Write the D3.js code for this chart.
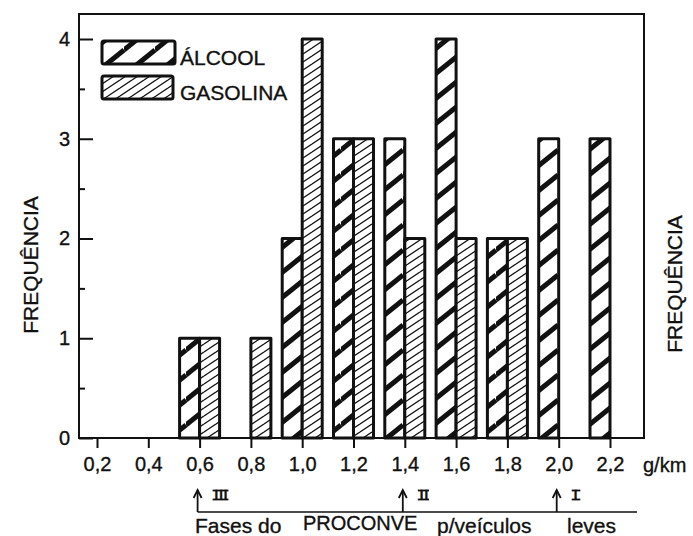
<!DOCTYPE html>
<html>
<head>
<meta charset="utf-8">
<script src="https://cdn.jsdelivr.net/npm/d3@7"></script>
<style>
  html, body { margin: 0; padding: 0; background: #fff; }
  svg { display: block; }
  text { font-family: "Liberation Sans", Arial, sans-serif; fill: #111; stroke: #111; stroke-width: 0.35px; }
</style>
</head>
<body>
<svg id="chart" width="693" height="536"></svg>
<script>
// ---- data ----
const xValues = [0.2, 0.4, 0.6, 0.8, 1.0, 1.2, 1.4, 1.6, 1.8, 2.0, 2.2];
const xTickLabels = ["0,2", "0,4", "0,6", "0,8", "1,0", "1,2", "1,4", "1,6", "1,8", "2,0", "2,2"];
const alcool   = [0, 0, 1, 0, 2, 3, 3, 4, 2, 3, 3];
const gasolina = [0, 0, 1, 1, 4, 3, 2, 2, 2, 0, 0];
const seriesNames = ["ÁLCOOL", "GASOLINA"];
const yMajorTicks = [0, 1, 2, 3, 4];
const yMinorTicks = [0.5, 1.5, 2.5, 3.5];
const phaseValues = [0.6, 1.4, 2.0];
const phaseLabels = ["III", "II", "I"];
const unitLabel = "g/km";
const yTitle = "FREQUÊNCIA";
const footerParts = ["Fases do", "PROCONVE", "p/veículos", "leves"];

// ---- layout ----
const svg = d3.select("#chart");
const ink = "#111";
const frame = { left: 79, top: 14, right: 644, bottom: 438 };
const x = d3.scaleLinear().domain([0.2, 2.2]).range([97, 610]);
const y = d3.scaleLinear().domain([0, 4]).range([438, 39]);
const barW = 20;

// ---- patterns ----
const defs = svg.append("defs");
function hatch(id, w, h, sw) {
  const p = defs.append("pattern").attr("id", id)
    .attr("patternUnits", "userSpaceOnUse").attr("width", w).attr("height", h);
  p.append("rect").attr("width", w).attr("height", h).attr("fill", "#fff");
  const segs = [[0, h, w, 0], [-w, h, 0, 0], [w, 2 * h, 2 * w, h], [0, 2*h, w, h], [0, 0, w, -h]];
  segs.forEach(s => p.append("line")
    .attr("x1", s[0]).attr("y1", s[1]).attr("x2", s[2]).attr("y2", s[3])
    .attr("stroke", ink).attr("stroke-width", sw));
}
hatch("hatchA", 31, 25, 5);
hatch("hatchG", 12, 8, 1.3);

// ---- frame ----
svg.append("rect")
  .attr("x", frame.left).attr("y", frame.top)
  .attr("width", frame.right - frame.left).attr("height", frame.bottom - frame.top)
  .attr("fill", "none").attr("stroke", ink).attr("stroke-width", 2);

// ---- bars ----
const rows = xValues.map((v, i) => ({ v, a: alcool[i], g: gasolina[i] }));
const barsG = svg.append("g");
barsG.selectAll("rect.a").data(rows.filter(d => d.a > 0)).join("rect")
  .attr("class", "a")
  .attr("x", d => x(d.v) - barW).attr("y", d => y(d.a))
  .attr("width", barW).attr("height", d => y(0) - y(d.a))
  .attr("fill", "url(#hatchA)").attr("stroke", ink).attr("stroke-width", 3)
  .attr("stroke-linejoin", "round");
barsG.selectAll("rect.g").data(rows.filter(d => d.g > 0)).join("rect")
  .attr("class", "g")
  .attr("x", d => x(d.v)).attr("y", d => y(d.g))
  .attr("width", barW).attr("height", d => y(0) - y(d.g))
  .attr("fill", "url(#hatchG)").attr("stroke", ink).attr("stroke-width", 3)
  .attr("stroke-linejoin", "round");

// ---- y axis ----
const yAxis = svg.append("g").attr("transform", `translate(${frame.left},0)`)
  .call(d3.axisLeft(y).tickValues(yMajorTicks).tickSize(-14).tickPadding(9).tickFormat(d3.format("d")));
yAxis.select(".domain").remove();
yAxis.selectAll("line").attr("stroke", ink).attr("stroke-width", 2);
yAxis.selectAll("text").attr("font-size", 20).attr("fill", ink);

const yMinor = svg.append("g").attr("transform", `translate(${frame.left},0)`)
  .call(d3.axisLeft(y).tickValues(yMinorTicks).tickSize(-6).tickFormat(""));
yMinor.select(".domain").remove();
yMinor.selectAll("line").attr("stroke", ink).attr("stroke-width", 2);

// ---- x axis ----
const xAxis = svg.append("g").attr("transform", `translate(0,${frame.bottom})`)
  .call(d3.axisBottom(x).tickValues(xValues).tickSize(10).tickPadding(9)
    .tickFormat((d, i) => xTickLabels[i]));
xAxis.select(".domain").remove();
xAxis.selectAll("line").attr("stroke", ink).attr("stroke-width", 2);
xAxis.selectAll("text").attr("font-size", 20).attr("fill", ink);

svg.append("text").attr("x", 643).attr("y", 472)
  .attr("font-size", 20).text(unitLabel);

// ---- y titles ----
svg.append("text").attr("transform", "translate(38,265) rotate(-90)")
  .attr("text-anchor", "middle").attr("font-size", 21).text(yTitle);
svg.append("text").attr("transform", "translate(682,284) rotate(-90)")
  .attr("text-anchor", "middle").attr("font-size", 21).text(yTitle);

// ---- legend ----
const legend = svg.append("g");
const legendRows = [
  { name: seriesNames[0], fill: "url(#hatchA)", y: 41, w: 73 },
  { name: seriesNames[1], fill: "url(#hatchG)", y: 76, w: 71 }
];
legendRows.forEach(r => {
  legend.append("rect").attr("x", 102).attr("y", r.y).attr("width", r.w).attr("height", 23)
    .attr("rx", 2).attr("fill", r.fill).attr("stroke", ink).attr("stroke-width", 3);
  legend.append("text").attr("x", 180).attr("y", r.y + 24).attr("font-size", 21).text(r.name);
});

// ---- PROCONVE phases ----
const ph = svg.append("g");
const lineY = 512;
ph.append("line").attr("x1", x(phaseValues[0]) - 2).attr("x2", 637)
  .attr("y1", lineY).attr("y2", lineY).attr("stroke", ink).attr("stroke-width", 1.6);
phaseValues.forEach((v, i) => {
  const px = x(v) - 2;
  ph.append("line").attr("x1", px).attr("x2", px).attr("y1", lineY).attr("y2", 490)
    .attr("stroke", ink).attr("stroke-width", 1.8);
  ph.append("path").attr("d", `M${px - 4},498 L${px},490 L${px + 4},498`)
    .attr("fill", "none").attr("stroke", ink).attr("stroke-width", 1.8);
  const t = ph.append("text").attr("x", px + 17).attr("y", 499)
    .attr("font-family", "Liberation Serif, serif").attr("font-weight", "bold")
    .attr("font-size", 13).attr("letter-spacing", 1).attr("stroke-width", 0).text(phaseLabels[i]);
  const bb = t.node().getBBox();
  const x0 = bb.x - 2, x1 = bb.x + bb.width + (phaseLabels[i].length > 1 ? 0 : 2);
  [490.5, 499.5].forEach(ly => ph.append("line")
    .attr("x1", x0).attr("x2", x1).attr("y1", ly).attr("y2", ly)
    .attr("stroke", ink).attr("stroke-width", 1.8));
});

const footX = [195, 303, 437, 567];
const footSize = [21, 20, 21, 21];
footerParts.forEach((s, i) => {
  svg.append("text").attr("x", footX[i]).attr("y", i === 1 ? 530 : 533)
    .attr("font-size", footSize[i]).text(s);
});
</script>
</body>
</html>
